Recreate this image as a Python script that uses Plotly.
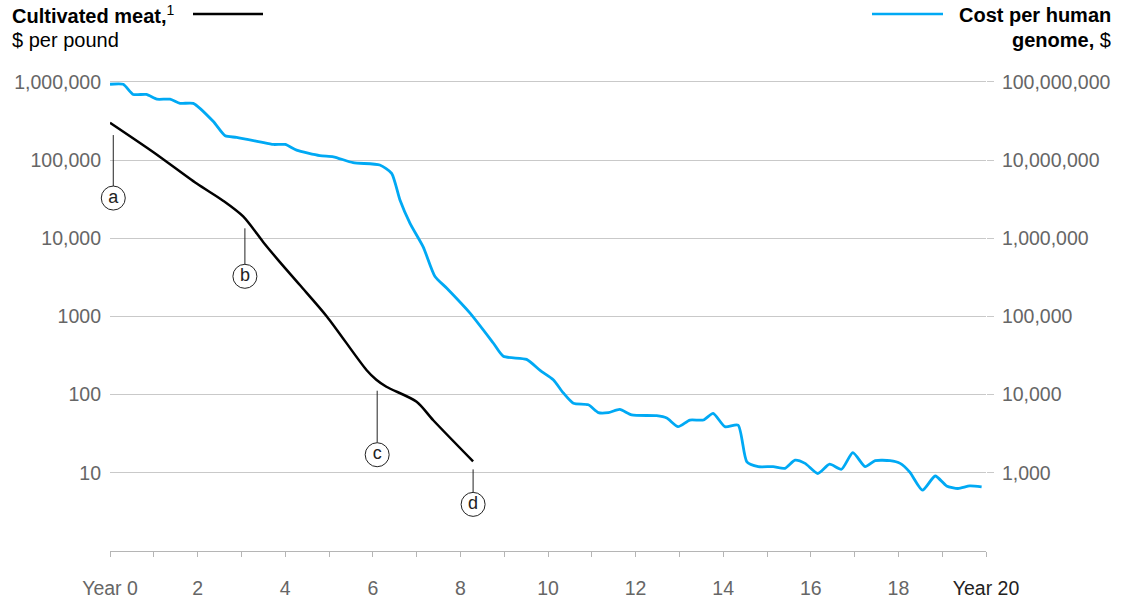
import numpy as np
import plotly.graph_objects as go

#%% data
# cultivated meat, $ per pound (left axis)
meat_years = [0, 1, 1.98, 2.59, 3.04, 3.5, 3.84, 4.34, 4.95, 5.86, 6.08, 6.31, 7.0, 7.38, 8.29]
meat_cost = [300000, 125000, 50000, 30000, 19000, 8900, 5250, 2500, 1000, 205, 155, 126, 81, 47, 14]

# cost per human genome, $ (right axis)
genome_years = [0.00, 0.30, 0.53, 0.83, 1.07, 1.37, 1.60, 1.90, 2.36, 2.63, 2.89, 3.42, 3.73, 4.00,
                4.26, 4.79, 5.10, 5.55, 6.16, 6.43, 6.62, 6.85, 7.15, 7.42, 7.69, 8.22, 8.75, 8.98,
                9.51, 9.82, 10.12, 10.35, 10.58, 10.92, 11.15, 11.38, 11.64, 11.91, 12.48, 12.71,
                12.97, 13.24, 13.55, 13.77, 14.04, 14.34, 14.54, 14.80, 15.14, 15.41, 15.64, 15.87,
                16.16, 16.43, 16.70, 16.96, 17.24, 17.47, 17.81, 18.04, 18.26, 18.55, 18.84, 19.10,
                19.36, 19.63, 19.90]
genome_cost = [93000000, 93000000, 69000000, 69000000, 60000000, 60000000, 53000000, 53000000,
               31000000, 20400000, 19500000, 17100000, 15800000, 15800000, 13400000, 11400000,
               11000000, 9250000, 8630000, 6760000, 3090000, 1550000, 776000, 324000, 229000,
               110000, 45700, 30900, 28200, 20400, 15500, 10500, 7760, 7410, 5890, 5890, 6460,
               5500, 5370, 5010, 3890, 4730, 4730, 5750, 3890, 4070, 1380, 1200, 1200, 1140, 1450,
               1320, 980, 1290, 1110, 1810, 1200, 1430, 1430, 1320, 1020, 600, 910, 680, 630, 680, 660]

left_ticks = [10, 100, 1000, 10000, 100000, 1000000]
left_labels = ['10', '100', '1000', '10,000', '100,000', '1,000,000']
right_ticks = [1000, 10000, 100000, 1000000, 10000000, 100000000]
right_labels = ['1,000', '10,000', '100,000', '1,000,000', '10,000,000', '100,000,000']
year_ticks = [0, 2, 4, 6, 8, 10, 12, 14, 16, 18, 20]
year_labels = ['Year 0', '2', '4', '6', '8', '10', '12', '14', '16', '18',
               '<span style="color:#222">Year 20</span>']

marker_letters = ['a', 'b', 'c', 'd']
marker_years = [0.075, 3.08, 6.1, 8.29]
marker_values = [280000, 18500, 155, 14]
marker_gap = [10, 11, 11, 8]      # px between curve and leader line
marker_len = [51, 36, 52, 23]     # px length of leader line

#%% layout helpers (body margin is removed after plotting, so page px == figure px)
W, H = 1133, 603
L, R, T, B = 110, 147, 74, 52
YMAX = 6.1
DEC = (H - T - B) / YMAX          # px per decade
FONT = 'Liberation Sans'
GREY = '#666666'
GRID = '#c9c9c9'
BLUE = '#00a9f4'

def px_x(p):
    return (p - L) / (W - L - R)

def px_y(p):
    return (H - B - p) / (H - T - B)

def shift(val, px):
    # move a left-axis value down by px pixels
    return val * 10 ** (-px / DEC)

fig = go.Figure()
fig.add_trace(go.Scatter(x=meat_years, y=meat_cost, mode='lines', name='Cultivated meat',
                         line=dict(color='black', width=2.5, shape='spline', smoothing=0.8),
                         hoverinfo='skip'))
fig.add_trace(go.Scatter(x=genome_years, y=genome_cost, mode='lines', name='Cost per human genome',
                         line=dict(color=BLUE, width=2.8, shape='spline', smoothing=0.6),
                         yaxis='y2', hoverinfo='skip'))

# circled letter markers with leader lines
for lab, yr, val, gap, ln in zip(marker_letters, marker_years, marker_values, marker_gap, marker_len):
    fig.add_trace(go.Scatter(x=[yr, yr], y=[shift(val, gap), shift(val, gap + ln)], mode='lines',
                             line=dict(color='#222', width=1), hoverinfo='skip'))
    fig.add_trace(go.Scatter(x=[yr], y=[shift(val, gap + ln + 12)], mode='markers+text',
                             text=[lab], textposition='middle center', cliponaxis=False,
                             textfont=dict(family=FONT, size=18, color='#222'),
                             marker=dict(size=24, color='white', line=dict(color='#222', width=1)),
                             hoverinfo='skip'))

shapes = [
    dict(type='line', xref='paper', yref='paper', x0=px_x(193), x1=px_x(263),
         y0=px_y(14), y1=px_y(14), line=dict(color='black', width=2.5)),
    dict(type='line', xref='paper', yref='paper', x0=px_x(872), x1=px_x(943),
         y0=px_y(14), y1=px_y(14), line=dict(color=BLUE, width=2.5)),
]

TF = dict(family=FONT, size=20, color='black')
annotations = [
    dict(x=px_x(10), y=px_y(15), xref='paper', yref='paper', xanchor='left', yanchor='middle',
         text='<b>Cultivated meat,</b><sup>1</sup>', showarrow=False, font=TF),
    dict(x=px_x(10), y=px_y(40), xref='paper', yref='paper', xanchor='left', yanchor='middle',
         text='$ per pound', showarrow=False, font=TF),
    dict(x=px_x(1113), y=px_y(15), xref='paper', yref='paper', xanchor='right', yanchor='middle',
         text='<b>Cost per human</b>', showarrow=False, font=TF),
    dict(x=px_x(1113), y=px_y(40), xref='paper', yref='paper', xanchor='right', yanchor='middle',
         text='<b>genome,</b> $', showarrow=False, font=TF),
]

fig.update_layout(
    width=W, height=H,
    margin=dict(l=L, r=R, t=T, b=B, autoexpand=False),
    plot_bgcolor='white', paper_bgcolor='white',
    showlegend=False,
    font=dict(family=FONT, size=19.5, color=GREY),
    xaxis=dict(range=[0, 20], tickvals=year_ticks, ticktext=year_labels, showgrid=False,
               zeroline=False, showline=True, linecolor='#b5b5b5', linewidth=1, automargin=False,
               ticks='outside', ticklen=5, tickcolor='#b5b5b5', ticklabelstandoff=15,
               minor=dict(dtick=1, tick0=0, ticks='outside', ticklen=5, tickcolor='#b5b5b5',
                          showgrid=False),
               tickfont=dict(size=19.5, color=GREY)),
    yaxis=dict(type='log', range=[0, YMAX], tickvals=left_ticks, ticktext=left_labels,
               showgrid=True, gridcolor=GRID, gridwidth=1, zeroline=False, showline=False,
               automargin=False, ticks='', ticklabelstandoff=8,
               tickfont=dict(size=19.5, color=GREY)),
    yaxis2=dict(type='log', range=[2, YMAX + 2], overlaying='y', side='right', tickvals=right_ticks,
                ticktext=right_labels, showgrid=False, zeroline=False, showline=False,
                automargin=False, ticks='outside', ticklen=7, tickcolor=GRID, ticklabelstandoff=4,
                tickfont=dict(size=19.5, color=GREY)),
    shapes=shapes,
    annotations=annotations,
)

fig.write_html("out.html", config={'displayModeBar': False},
               post_script="document.body.style.margin='0px';")
